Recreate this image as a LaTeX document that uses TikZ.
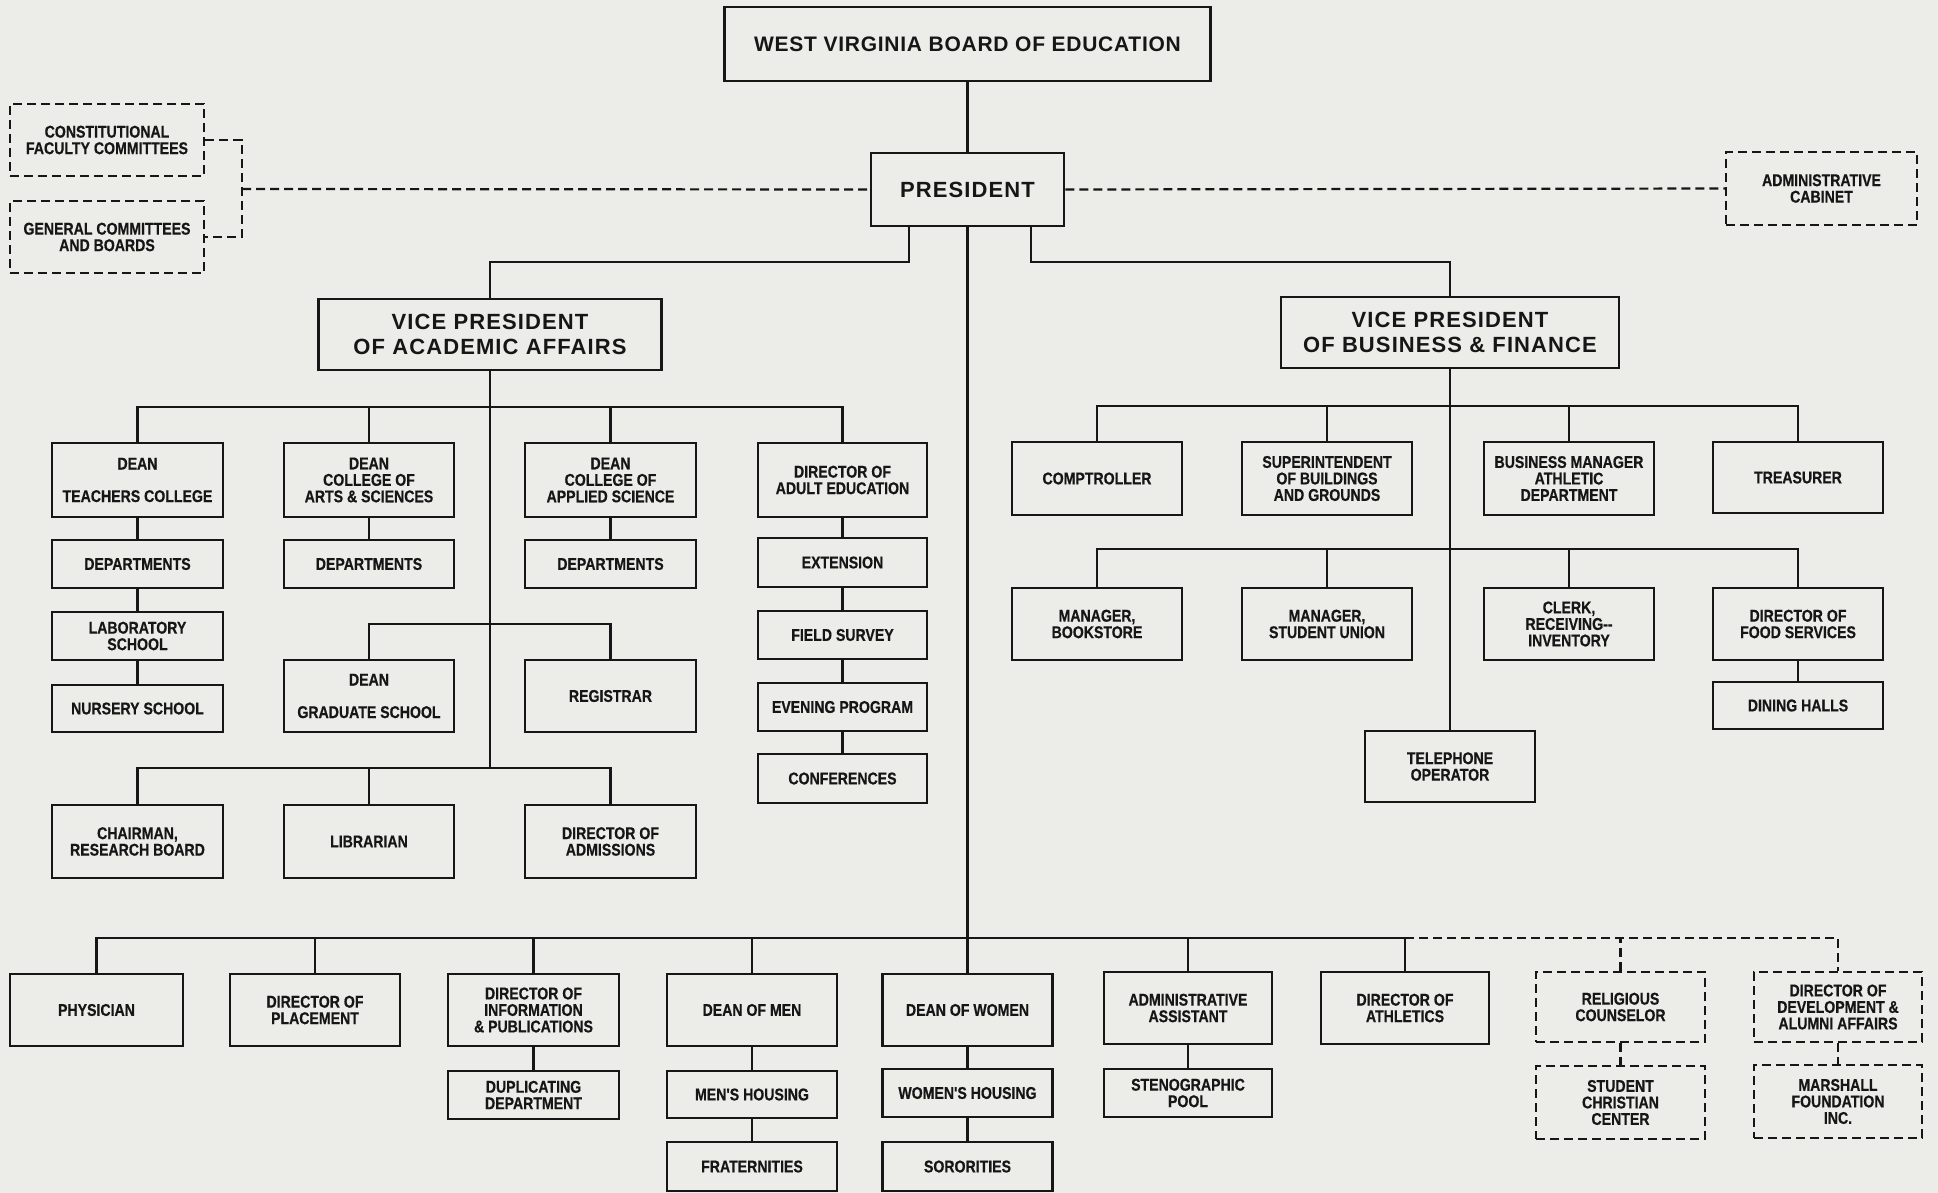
\documentclass[tikz,border=0pt]{standalone}
\usepackage{fontspec}
\setmainfont{Liberation Sans}
\newfontfamily\bigf{Liberation Sans}[LetterSpace=3.5]
\newfontfamily\vpf{Liberation Sans}[LetterSpace=5]
\newfontfamily\narf{Liberation Sans}[FakeStretch=0.83, FakeBold=0.5]
\definecolor{paper}{RGB}{236,236,232}
\definecolor{ink}{RGB}{22,22,22}
\begin{document}
\begin{tikzpicture}[x=1pt,y=-1pt,
  box/.style={draw=ink, line width=2.5pt, inner sep=0pt, align=center, text=ink,
    font={\narf\bfseries\fontsize{17pt}{16.5pt}\selectfont}},
  bigbox/.style={box, font={\bigf\bfseries\fontsize{21pt}{25pt}\selectfont}},
  vpbox/.style={box, font={\vpf\bfseries\fontsize{22pt}{25pt}\selectfont}},
  dbox/.style={box, line width=2.2pt, dash pattern=on 9pt off 5pt},
  conn/.style={draw=ink, line width=2.5pt},
  dconn/.style={draw=ink, line width=2.2pt, dash pattern=on 9pt off 5pt},
  sz/.style 2 args={minimum width=#1pt, minimum height=#2pt}]
\useasboundingbox (0,0) rectangle (1938,1193);
\fill[paper] (0,0) rectangle (1938,1193);

% top
\node[bigbox, sz={486}{74}] (board) at (967.5,44) {WEST VIRGINIA BOARD OF EDUCATION};
\node[vpbox, sz={193}{73}] (pres) at (967.5,189.5) {PRESIDENT};
\node[dbox, sz={194}{72}] (cfc) at (107,140) {CONSTITUTIONAL\\FACULTY COMMITTEES};
\node[dbox, sz={194}{72}] (gcb) at (107,237) {GENERAL COMMITTEES\\AND BOARDS};
\node[dbox, sz={191}{73}] (cab) at (1821.5,188.5) {ADMINISTRATIVE\\CABINET};
\node[vpbox, sz={343}{71}] (vpa) at (490,334.5) {VICE PRESIDENT\\OF ACADEMIC AFFAIRS};
\node[vpbox, sz={338}{71}] (vpb) at (1450,332.5) {VICE PRESIDENT\\OF BUSINESS \& FINANCE};

% academic
\node[box, sz={171}{74}] (dtc) at (137.5,480) {DEAN\\[16pt]TEACHERS COLLEGE};
\node[box, sz={170}{74}] (das) at (369,480) {DEAN\\COLLEGE OF\\ARTS \& SCIENCES};
\node[box, sz={171}{74}] (dapp) at (610.5,480) {DEAN\\COLLEGE OF\\APPLIED SCIENCE};
\node[box, sz={169}{74}] (dae) at (842.5,480) {DIRECTOR OF\\ADULT EDUCATION};
\node[box, sz={171}{48}] (dep1) at (137.5,564) {DEPARTMENTS};
\node[box, sz={170}{48}] (dep2) at (369,564) {DEPARTMENTS};
\node[box, sz={171}{48}] (dep3) at (610.5,564) {DEPARTMENTS};
\node[box, sz={169}{49}] (ext) at (842.5,562.5) {EXTENSION};
\node[box, sz={171}{48}] (lab) at (137.5,636) {LABORATORY\\SCHOOL};
\node[box, sz={169}{48}] (fs) at (842.5,635) {FIELD SURVEY};
\node[box, sz={171}{47}] (nur) at (137.5,708.5) {NURSERY SCHOOL};
\node[box, sz={169}{48}] (ep) at (842.5,707) {EVENING PROGRAM};
\node[box, sz={170}{72}] (dgs) at (369,696) {DEAN\\[16pt]GRADUATE SCHOOL};
\node[box, sz={171}{72}] (reg) at (610.5,696) {REGISTRAR};
\node[box, sz={169}{49}] (conf) at (842.5,778.5) {CONFERENCES};
\node[box, sz={171}{73}] (crb) at (137.5,841.5) {CHAIRMAN,\\RESEARCH BOARD};
\node[box, sz={170}{73}] (lib) at (369,841.5) {LIBRARIAN};
\node[box, sz={171}{73}] (adm) at (610.5,841.5) {DIRECTOR OF\\ADMISSIONS};

% business
\node[box, sz={170}{73}] (comp) at (1097,478.5) {COMPTROLLER};
\node[box, sz={170}{73}] (sup) at (1327,478.5) {SUPERINTENDENT\\OF BUILDINGS\\AND GROUNDS};
\node[box, sz={170}{73}] (bma) at (1569,478.5) {BUSINESS MANAGER\\ATHLETIC\\DEPARTMENT};
\node[box, sz={170}{71}] (tre) at (1798,477.5) {TREASURER};
\node[box, sz={170}{72}] (bks) at (1097,624) {MANAGER,\\BOOKSTORE};
\node[box, sz={170}{72}] (su) at (1327,624) {MANAGER,\\STUDENT UNION};
\node[box, sz={170}{72}] (clk) at (1569,624) {CLERK,\\RECEIVING-{}-\\INVENTORY};
\node[box, sz={170}{72}] (food) at (1798,624) {DIRECTOR OF\\FOOD SERVICES};
\node[box, sz={170}{47}] (din) at (1798,705.5) {DINING HALLS};
\node[box, sz={170}{71}] (tel) at (1450,766.5) {TELEPHONE\\OPERATOR};

% bottom row
\node[box, sz={173}{72}] (phy) at (96.5,1010) {PHYSICIAN};
\node[box, sz={170}{72}] (plc) at (315,1010) {DIRECTOR OF\\PLACEMENT};
\node[box, sz={171}{72}] (inf) at (533.5,1010) {DIRECTOR OF\\INFORMATION\\\& PUBLICATIONS};
\node[box, sz={170}{72}] (dom) at (752,1010) {DEAN OF MEN};
\node[box, sz={170}{72}] (dow) at (967.5,1010) {DEAN OF WOMEN};
\node[box, sz={168}{72}] (aa) at (1188,1008) {ADMINISTRATIVE\\ASSISTANT};
\node[box, sz={168}{72}] (ath) at (1405,1008) {DIRECTOR OF\\ATHLETICS};
\node[dbox, sz={169}{70}] (rel) at (1620.5,1007) {RELIGIOUS\\COUNSELOR};
\node[dbox, sz={168}{70}] (dev) at (1838,1007) {DIRECTOR OF\\DEVELOPMENT \&\\ALUMNI AFFAIRS};
\node[box, sz={171}{48}] (dup) at (533.5,1095) {DUPLICATING\\DEPARTMENT};
\node[box, sz={170}{47}] (mh) at (752,1094.5) {MEN'S HOUSING};
\node[box, sz={170}{48}] (wh) at (967.5,1093) {WOMEN'S HOUSING};
\node[box, sz={168}{48}] (sp) at (1188,1093) {STENOGRAPHIC\\POOL};
\node[dbox, sz={169}{73}] (scc) at (1620.5,1102.5) {STUDENT\\CHRISTIAN\\CENTER};
\node[dbox, sz={168}{73}] (mf) at (1838,1101.5) {MARSHALL\\FOUNDATION\\INC.};
\node[box, sz={170}{49}] (frat) at (752,1166.5) {FRATERNITIES};
\node[box, sz={170}{49}] (sor) at (967.5,1166.5) {SORORITIES};

% bus coordinates
\coordinate (abus) at (490,407);
\coordinate (gbus) at (490,624);
\coordinate (lbus) at (490,768);
\coordinate (bb1) at (1450,406);
\coordinate (bb2) at (1450,549);
\coordinate (bbus) at (967.5,938);
\coordinate (pl) at (909,262);
\coordinate (pr) at (1031,262);
\coordinate (cb) at (242,189);

% trunk
\draw[conn] (board.south) -- (pres.north);
\draw[conn] (pres.south) -- (dow.north);
\draw[conn] (pres.south -| pl) -- (pl) -| (vpa.north);
\draw[conn] (pres.south -| pr) -- (pr) -| (vpb.north);
\draw[dconn] (cfc.east) -| (cb) |- (gcb.east);
\draw[dconn] (cb) -- (pres.west);
\draw[dconn] (pres.east) -- (cab.west);

% academic
\draw[conn] (vpa.south) -- (lbus);
\draw[conn] (dtc.north) |- (abus) -| (dae.north);
\draw[conn] (das.north) -- (das.north |- abus);
\draw[conn] (dapp.north) -- (dapp.north |- abus);
\draw[conn] (dgs.north) |- (gbus) -| (reg.north);
\draw[conn] (crb.north) |- (lbus) -| (adm.north);
\draw[conn] (lib.north) -- (lib.north |- lbus);
\draw[conn] (dtc) -- (dep1);
\draw[conn] (dep1) -- (lab);
\draw[conn] (lab) -- (nur);
\draw[conn] (das) -- (dep2);
\draw[conn] (dapp) -- (dep3);
\draw[conn] (dae) -- (ext);
\draw[conn] (ext) -- (fs);
\draw[conn] (fs) -- (ep);
\draw[conn] (ep) -- (conf);

% business
\draw[conn] (vpb.south) -- (tel.north);
\draw[conn] (comp.north) |- (bb1) -| (tre.north);
\draw[conn] (sup.north) -- (sup.north |- bb1);
\draw[conn] (bma.north) -- (bma.north |- bb1);
\draw[conn] (bks.north) |- (bb2) -| (food.north);
\draw[conn] (su.north) -- (su.north |- bb2);
\draw[conn] (clk.north) -- (clk.north |- bb2);
\draw[conn] (food) -- (din);

% bottom
\draw[conn] (phy.north) |- (bbus) -| (ath.north);
\draw[conn] (plc.north) -- (plc.north |- bbus);
\draw[conn] (inf.north) -- (inf.north |- bbus);
\draw[conn] (dom.north) -- (dom.north |- bbus);
\draw[conn] (aa.north) -- (aa.north |- bbus);
\draw[dconn] (ath.north |- bbus) -| (dev.north);
\draw[dconn] (rel.north) -- (rel.north |- bbus);
\draw[conn] (inf) -- (dup);
\draw[conn] (dom) -- (mh);
\draw[conn] (mh) -- (frat);
\draw[conn] (dow) -- (wh);
\draw[conn] (wh) -- (sor);
\draw[conn] (aa) -- (sp);
\draw[dconn] (rel) -- (scc);
\draw[dconn] (dev) -- (mf);
\end{tikzpicture}
\end{document}
